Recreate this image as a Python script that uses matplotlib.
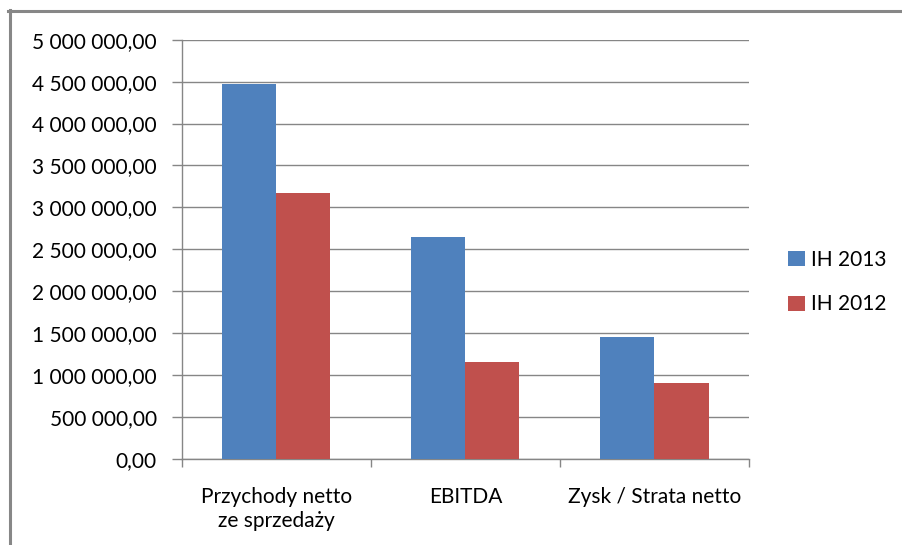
import matplotlib
matplotlib.use("Agg")
import matplotlib.pyplot as plt
from matplotlib.lines import Line2D
import numpy as np

categories = ["Przychody netto\nze sprzedaży", "EBITDA", "Zysk / Strata netto"]
series_names = ["IH 2013", "IH 2012"]
ih2013 = [4470000, 2645000, 1455000]
ih2012 = [3170000, 1155000, 905000]
yticks = [0, 500000, 1000000, 1500000, 2000000, 2500000, 3000000, 3500000, 4000000, 4500000, 5000000]

plt.rcParams['font.family'] = ['Lato', 'DejaVu Sans']
FS = 15
GRAY = '#868686'

fig = plt.figure(figsize=(9.02, 5.45), dpi=100)
ax = fig.add_axes([181.7/902, 1-459/545, (749-181.7)/902, (459-39.7)/545])

x = np.arange(len(categories))
w = 0.286
b1 = ax.bar(x - w/2, ih2013, w, color='#4F81BD', label=series_names[0], zorder=3)
b2 = ax.bar(x + w/2, ih2012, w, color='#C0504D', label=series_names[1], zorder=3)

ax.set_xlim(-0.5, len(categories) - 0.5)
ax.set_ylim(0, 5000000)
ax.set_yticks(yticks)
def fmt(v):
    s = f"{int(v):,}".replace(",", " ")
    return s + ",00"
ax.set_yticklabels([fmt(v) for v in yticks], fontsize=FS)
ax.yaxis.grid(True, color=GRAY, linewidth=1.0, zorder=0)
ax.set_axisbelow(True)

ax.set_xticks(x)
ax.set_xticklabels(categories, fontsize=FS, linespacing=1.25, va='top')
ax.tick_params(axis='x', length=0, pad=20)
ax.set_xticks(np.arange(-0.5, len(categories), 1.0), minor=True)
ax.tick_params(axis='x', which='minor', length=6, width=1, color=GRAY, direction='out')
ax.tick_params(axis='y', length=7, width=1, color=GRAY, direction='out', pad=11)

for s in ['top', 'right']:
    ax.spines[s].set_visible(False)
for s in ['left', 'bottom']:
    ax.spines[s].set_color(GRAY)
    ax.spines[s].set_linewidth(1.0)

fig.legend(handles=[b1, b2], labels=series_names, loc='center left',
           bbox_to_anchor=(788/902, 1-282/545), frameon=False, fontsize=FS,
           handlelength=0.82, handleheight=0.72, handletextpad=0.3,
           labelspacing=1.2, borderpad=0, borderaxespad=0)

fig.add_artist(Line2D([8/902, 1], [1-11/545, 1-11/545], color='#878787', linewidth=2.2, transform=fig.transFigure))
fig.add_artist(Line2D([9.5/902, 9.5/902], [0, 1-10/545], color='#878787', linewidth=2.2, transform=fig.transFigure))

fig.savefig("out.png", dpi=100)
